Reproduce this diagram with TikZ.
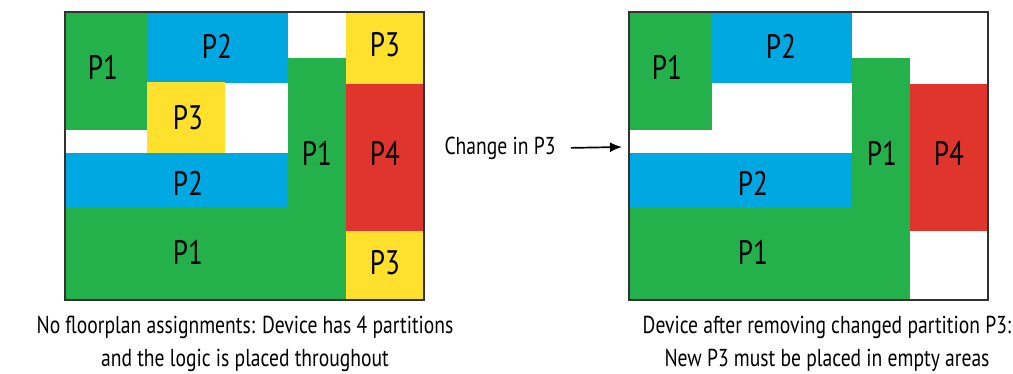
\documentclass[tikz,border=0pt]{standalone}
\usepackage{fontspec}
\setmainfont{PT Sans}[FakeStretch=0.8]
\usepackage{tikz}
\usetikzlibrary{arrows.meta}
\definecolor{pgreen}{RGB}{36,176,74}
\definecolor{pblue}{RGB}{0,168,226}
\definecolor{pyellow}{RGB}{255,225,45}
\definecolor{pred}{RGB}{224,53,45}
\definecolor{frame}{RGB}{50,50,50}

\begin{document}
\begin{tikzpicture}[x=1pt,y=-1pt,
  plabel/.style={font=\fontsize{34}{34}\selectfont},
  caption/.style={font=\fontsize{24.5}{33}\selectfont,align=center}]

\useasboundingbox (0,0) rectangle (1013,373);

% device antes
\fill[pgreen] (65,12) rectangle (147,130);
\fill[pblue] (147,12) rectangle (288,83);
\fill[pyellow] (346,12) rectangle (424,84);
\fill[pyellow] (147,82) rectangle (225,154);
\fill[pblue] (65,153) rectangle (288,208);
\fill[pgreen] (288,58) rectangle (346,300);
\fill[pgreen] (65,208) rectangle (346,300);
\fill[pred] (346,84) rectangle (424,231);
\fill[pyellow] (346,231) rectangle (424,300);
\draw[frame,line width=1.5pt] (65,12) rectangle (424,300);

% labels antes
\node[plabel] (lp1a) at (103,67) {P1};
\node[plabel] (lp2a) at (217,46) {P2};
\node[plabel] (lp3a) at (188,118) {P3};
\node[plabel] (lp2b) at (188,183) {P2};
\node[plabel] (lp1b) at (188,252) {P1};
\node[plabel] (lp1c) at (317,153) {P1};
\node[plabel] (lp4) at (385,153) {P4};
\node[plabel] (lp3b) at (385,45) {P3};
\node[plabel] (lp3c) at (385,263) {P3};

% device despues
\fill[pgreen] (629,12) rectangle (712,130);
\fill[pblue] (712,12) rectangle (852,83);
\fill[pblue] (629,153) rectangle (852,208);
\fill[pgreen] (852,58) rectangle (910,300);
\fill[pgreen] (629,208) rectangle (910,300);
\fill[pred] (910,84) rectangle (988,231);
\draw[frame,line width=1.5pt] (629,12) rectangle (988,300);

% labels despues
\node[plabel] (rp1a) at (667,67) {P1};
\node[plabel] (rp2a) at (781,46) {P2};
\node[plabel] (rp2b) at (753,183) {P2};
\node[plabel] (rp1b) at (753,252) {P1};
\node[plabel] (rp1c) at (882,153) {P1};
\node[plabel] (rp4) at (949,153) {P4};

% change arrow
\node[caption,anchor=base] (chg) at (500,154) {Change in P3};
\coordinate (devR) at (622,147);
\draw[-{Latex[length=12pt,width=10pt]},line width=1.7pt] ([xshift=12pt]chg.east) -- (devR);

% captions
\node[caption,anchor=base] (capL) at (245,366) {No floorplan assignments: Device has 4 partitions\\and the logic is placed throughout};
\node[caption,anchor=base] (capR) at (827,366) {Device after removing changed partition P3:\\New P3 must be placed in empty areas};

\end{tikzpicture}
\end{document}
